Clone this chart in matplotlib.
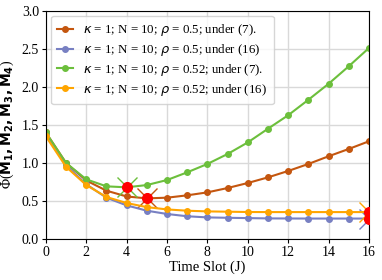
import matplotlib
matplotlib.use("Agg")
from matplotlib import pyplot as plt

plt.rcParams['font.family'] = ['Liberation Serif', 'DejaVu Sans']

slots = list(range(17))
rho05_eq7 = [1.40, 1.00, 0.77, 0.636, 0.56, 0.535, 0.544, 0.575, 0.614, 0.671,
             0.737, 0.811, 0.895, 0.987, 1.088, 1.184, 1.285]
rho05_eq16 = [1.38, 0.97, 0.72, 0.544, 0.443, 0.373, 0.33, 0.30, 0.285, 0.28,
              0.276, 0.272, 0.271, 0.27, 0.27, 0.27, 0.27]
rho052_eq7 = [1.40, 1.00, 0.785, 0.693, 0.68, 0.71, 0.776, 0.877, 0.987, 1.118,
              1.27, 1.45, 1.627, 1.83, 2.04, 2.27, 2.51]
rho052_eq16 = [1.35, 0.95, 0.71, 0.553, 0.474, 0.42, 0.39, 0.373, 0.364, 0.36,
               0.356, 0.355, 0.355, 0.355, 0.355, 0.355, 0.355]

labels = [r'$\kappa$ = 1; N = 10; $\rho$ = 0.5; under (7).',
          r'$\kappa$ = 1; N = 10; $\rho$ = 0.5; under (16)',
          r'$\kappa$ = 1; N = 10; $\rho$ = 0.52; under (7).',
          r'$\kappa$ = 1; N = 10; $\rho$ = 0.52; under (16)']
colors = ['#c4560f', '#7880c2', '#6cbf3c', '#ffa500']
series = [rho05_eq7, rho05_eq16, rho052_eq7, rho052_eq16]

fig = plt.figure(figsize=(3.82, 2.8), dpi=100)
ax = fig.add_axes([0.12, 0.146, 0.846, 0.816])

for vals, lab, col in zip(series, labels, colors):
    ax.plot(slots, vals, color=col, marker='o', markersize=4, linewidth=1.5, label=lab)
    # minimum of each curve (last one if several)
    m = min(vals)
    j = max(i for i, v in enumerate(vals) if v == m)
    ax.plot(slots[j], vals[j], marker='x', color=col, markersize=14,
            markeredgewidth=1.0)
    ax.plot(slots[j], vals[j], marker='o', color='red', markersize=7, zorder=5)

ax.set_xlim(0, 16)
ax.set_ylim(0, 3.0)
ax.set_xticks(range(0, 17, 2))
ax.set_yticks([0, 0.5, 1.0, 1.5, 2.0, 2.5, 3.0])
ax.tick_params(labelsize=10, length=3, pad=2)
ax.grid(True, color='#d9d9d9', linewidth=1)
ax.set_axisbelow(True)
ax.set_xlabel('Time Slot (J)', fontsize=10.5, labelpad=1)
ax.set_ylabel(r'Φ($\mathbf{M_1, M_2, M_3, M_4}$)', fontsize=10, labelpad=4)
ax.legend(loc='upper left', fontsize=9.3, handlelength=1.2, borderpad=0.5,
          labelspacing=0.3, handletextpad=0.8, borderaxespad=0.4)

fig.savefig('out.png', dpi=100)
